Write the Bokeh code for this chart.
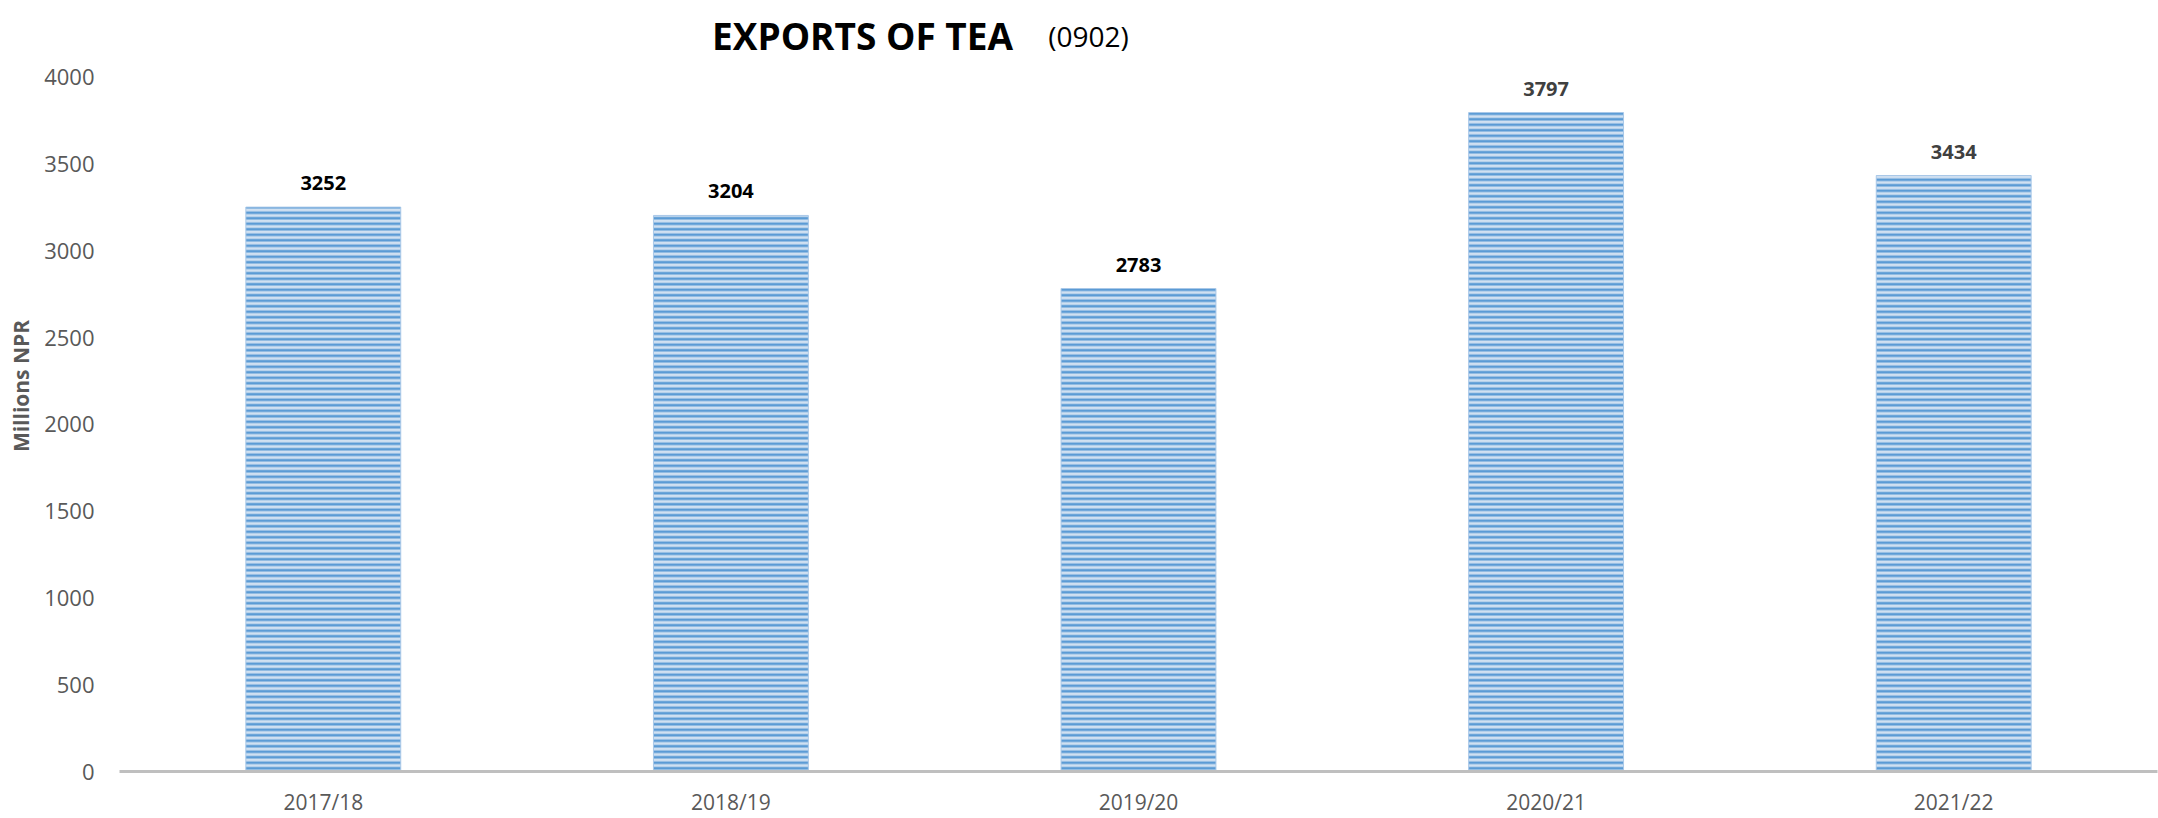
from bokeh.plotting import figure
from bokeh.models import ColumnDataSource, FactorRange, Range1d, FixedTicker, LabelSet, Label
from bokeh.core.properties import value
from bokeh.embed import file_html
from bokeh.resources import INLINE

# ---- data ----
years = ["2017/18", "2018/19", "2019/20", "2020/21", "2021/22"]
exports = [3252, 3204, 2783, 3797, 3434]
value_labels = ["3252", "3204", "2783", "3797", "3434"]
label_colors = ["#000000", "#000000", "#000000", "#404040", "#404040"]
y_ticks = [0, 500, 1000, 1500, 2000, 2500, 3000, 3500, 4000]
y_max_tick = 4000

source = ColumnDataSource(dict(x=years, y=exports, lab=value_labels, col=label_colors))

FONT = "Open Sans"
GREY = "#595959"

# layout (pixels)
W, H = 2158, 818
LEFT, BOTTOM = 119, 45
FRAME_TOP_PX = 77            # where the 4000 tick sits
frame_h = H - BOTTOM         # frame spans from canvas top down to axis
plot_h = frame_h - FRAME_TOP_PX
y_end = y_max_tick * frame_h / plot_h

p = figure(
    width=W, height=H,
    x_range=FactorRange(*years, range_padding=0),
    y_range=Range1d(0, y_end),
    output_backend="svg", toolbar_location=None,
    min_border_left=LEFT, min_border_right=1,
    min_border_top=0, min_border_bottom=BOTTOM,
)
p.outline_line_color = None
p.xgrid.grid_line_color = None
p.ygrid.grid_line_color = None
p.background_fill_color = "white"

p.vbar(x="x", top="y", width=0.38, source=source,
       fill_color="#D0E0F1", line_color="#A9C8E8", line_width=1,
       hatch_pattern="horizontal_line", hatch_color="#5B9BD5",
       hatch_weight=2.6, hatch_scale=5.5)

labels = LabelSet(x="x", y="y", text="lab", source=source,
                  text_align="center", text_baseline="bottom", y_offset=17,
                  text_font=value(FONT), text_font_size="20px", text_font_style="bold",
                  text_color="col")
p.add_layout(labels)

# y axis
p.yaxis.ticker = FixedTicker(ticks=y_ticks)
p.yaxis.axis_line_color = None
p.yaxis.major_tick_line_color = None
p.yaxis.minor_tick_line_color = None
p.yaxis.major_label_text_font = FONT
p.yaxis.major_label_text_font_size = "22px"
p.yaxis.major_label_text_color = GREY
p.yaxis.major_label_standoff = 19
p.yaxis.axis_label = "Millions NPR"
p.yaxis.axis_label_text_font = FONT
p.yaxis.axis_label_text_font_size = "21px"
p.yaxis.axis_label_text_font_style = "bold"
p.yaxis.axis_label_text_color = GREY
p.yaxis.axis_label_standoff = 6

# x axis
p.xaxis.axis_line_color = "#BFBFBF"
p.xaxis.axis_line_width = 3
p.xaxis.major_tick_line_color = None
p.xaxis.major_tick_out = 0
p.xaxis.minor_tick_line_color = None
p.xaxis.major_label_text_font = FONT
p.xaxis.major_label_text_font_size = "21px"
p.xaxis.major_label_text_color = GREY
p.xaxis.major_label_standoff = 16

# title (screen units, relative to the frame's bottom-left)
title_baseline = frame_h - 37
p.add_layout(Label(x=862 - LEFT, y=title_baseline, x_units="screen", y_units="screen",
                   text="EXPORTS OF TEA", text_align="center", text_baseline="alphabetic",
                   text_font=FONT, text_font_size="37px", text_font_style="bold",
                   text_color="#000000"))
p.add_layout(Label(x=1088 - LEFT, y=title_baseline, x_units="screen", y_units="screen",
                   text="(0902)", text_align="center", text_baseline="alphabetic",
                   text_font=FONT, text_font_size="28px", text_font_style="normal",
                   text_color="#000000"))

open("out.html", "w").write(file_html(p, INLINE))
